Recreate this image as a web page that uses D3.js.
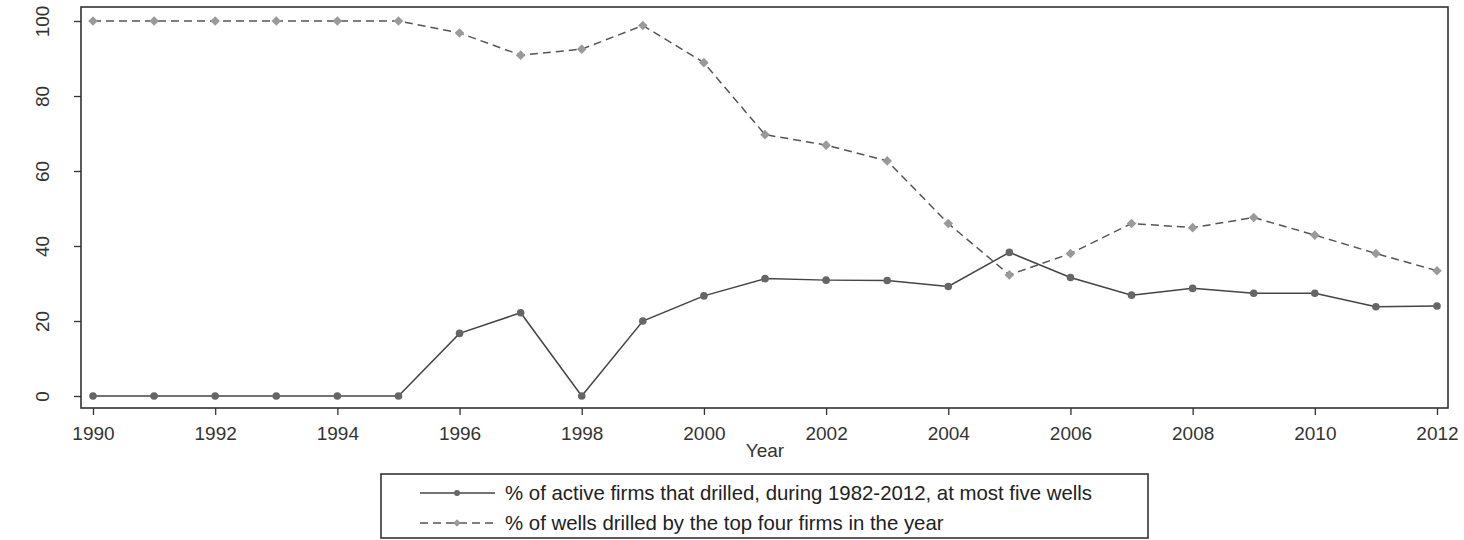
<!DOCTYPE html>
<html>
<head>
<meta charset="utf-8">
<script src="https://cdn.jsdelivr.net/npm/d3@7"></script>
<style>
  html, body { margin: 0; padding: 0; background: #fff; }
  svg { display: block; font-family: "Liberation Sans", Arial, sans-serif; }
</style>
</head>
<body>
<svg id="chart" width="1464" height="540"></svg>
<script>
const years = d3.range(1990, 2013);
const smallFirms = [0, 0, 0, 0, 0, 0, 16.7, 22.2, 0, 20.0, 26.7, 31.3, 30.9, 30.8, 29.2, 38.3, 31.6, 26.9, 28.7, 27.4, 27.4, 23.8, 24.0];
const topFour = [100, 100, 100, 100, 100, 100, 96.8, 90.9, 92.5, 98.8, 88.9, 69.7, 66.9, 62.7, 46.0, 32.3, 38.0, 46.0, 44.9, 47.6, 42.9, 38.0, 33.4];
const xTicks = d3.range(1990, 2013, 2);
const yTicks = [0, 20, 40, 60, 80, 100];
const legendLabels = [
  "% of active firms that drilled, during 1982-2012, at most five wells",
  "% of wells drilled by the top four firms in the year"
];

const svg = d3.select("#chart");
const frame = { left: 81, right: 1448, top: 7, bottom: 408 };

const x = d3.scaleLinear().domain([1990, 2012]).range([93, 1437]);
const y = d3.scaleLinear().domain([0, 100]).range([396, 21]);

// plot frame
svg.append("rect")
  .attr("x", frame.left).attr("y", frame.top)
  .attr("width", frame.right - frame.left).attr("height", frame.bottom - frame.top)
  .attr("fill", "none").attr("stroke", "#333").attr("stroke-width", 1.6);

// axes
const xAxis = svg.append("g")
  .attr("transform", `translate(0,${frame.bottom})`)
  .call(d3.axisBottom(x).tickValues(xTicks).tickFormat(d3.format("d")).tickSize(7));
const yAxis = svg.append("g")
  .attr("transform", `translate(${frame.left},0)`)
  .call(d3.axisLeft(y).tickValues(yTicks).tickSize(7));

[xAxis, yAxis].forEach(g => {
  g.select(".domain").remove();
  g.selectAll(".tick line").attr("stroke", "#333").attr("stroke-width", 1.3);
  g.selectAll(".tick text").attr("fill", "#333").style("font-size", "19px")
    .style("font-family", "'Liberation Sans', Arial, sans-serif");
});
xAxis.selectAll(".tick text").attr("y", 32).attr("dy", null);
yAxis.selectAll(".tick text")
  .attr("x", 0).attr("y", 0).attr("dy", "0.35em")
  .attr("text-anchor", "middle")
  .attr("transform", `translate(${42 - frame.left},0) rotate(-90)`);

svg.append("text")
  .attr("x", (x(1990) + x(2012)) / 2).attr("y", 457)
  .attr("text-anchor", "middle").attr("fill", "#333")
  .style("font-size", "19px").text("Year");

// series
const line = d3.line().x((d, i) => x(years[i])).y(d => y(d));

svg.append("path").datum(topFour)
  .attr("d", line).attr("fill", "none")
  .attr("stroke", "#555").attr("stroke-width", 1.5).attr("stroke-dasharray", "8,5");
svg.append("path").datum(smallFirms)
  .attr("d", line).attr("fill", "none")
  .attr("stroke", "#444").attr("stroke-width", 1.5);

const diamond = d3.symbol().type(d3.symbolSquare).size(46);
svg.append("g").selectAll("path").data(topFour).join("path")
  .attr("transform", (d, i) => `translate(${x(years[i])},${y(d)}) rotate(45)`)
  .attr("d", diamond).attr("fill", "#9a9a9a");
svg.append("g").selectAll("circle").data(smallFirms).join("circle")
  .attr("cx", (d, i) => x(years[i])).attr("cy", d => y(d))
  .attr("r", 3.8).attr("fill", "#666");

// legend
const lg = svg.append("g");
lg.append("rect")
  .attr("x", 381).attr("y", 474).attr("width", 767).attr("height", 64)
  .attr("fill", "#fff").attr("stroke", "#333").attr("stroke-width", 1.6);
const rows = [
  { label: legendLabels[0], yy: 493, dash: null, stroke: "#444", mark: "circle" },
  { label: legendLabels[1], yy: 523, dash: "8,5", stroke: "#555", mark: "diamond" }
];
rows.forEach(r => {
  lg.append("line").attr("x1", 420).attr("x2", 495).attr("y1", r.yy).attr("y2", r.yy)
    .attr("stroke", r.stroke).attr("stroke-width", 1.3)
    .attr("stroke-dasharray", r.dash);
  if (r.mark === "circle") {
    lg.append("circle").attr("cx", 457).attr("cy", r.yy).attr("r", 3).attr("fill", "#666");
  } else {
    lg.append("path").attr("transform", `translate(457,${r.yy}) rotate(45)`)
      .attr("d", d3.symbol().type(d3.symbolSquare).size(28)).attr("fill", "#9a9a9a");
  }
  lg.append("text").attr("x", 505).attr("y", r.yy).attr("dy", "0.35em")
    .attr("fill", "#222").style("font-size", "20.4px").text(r.label);
});
</script>
</body>
</html>
